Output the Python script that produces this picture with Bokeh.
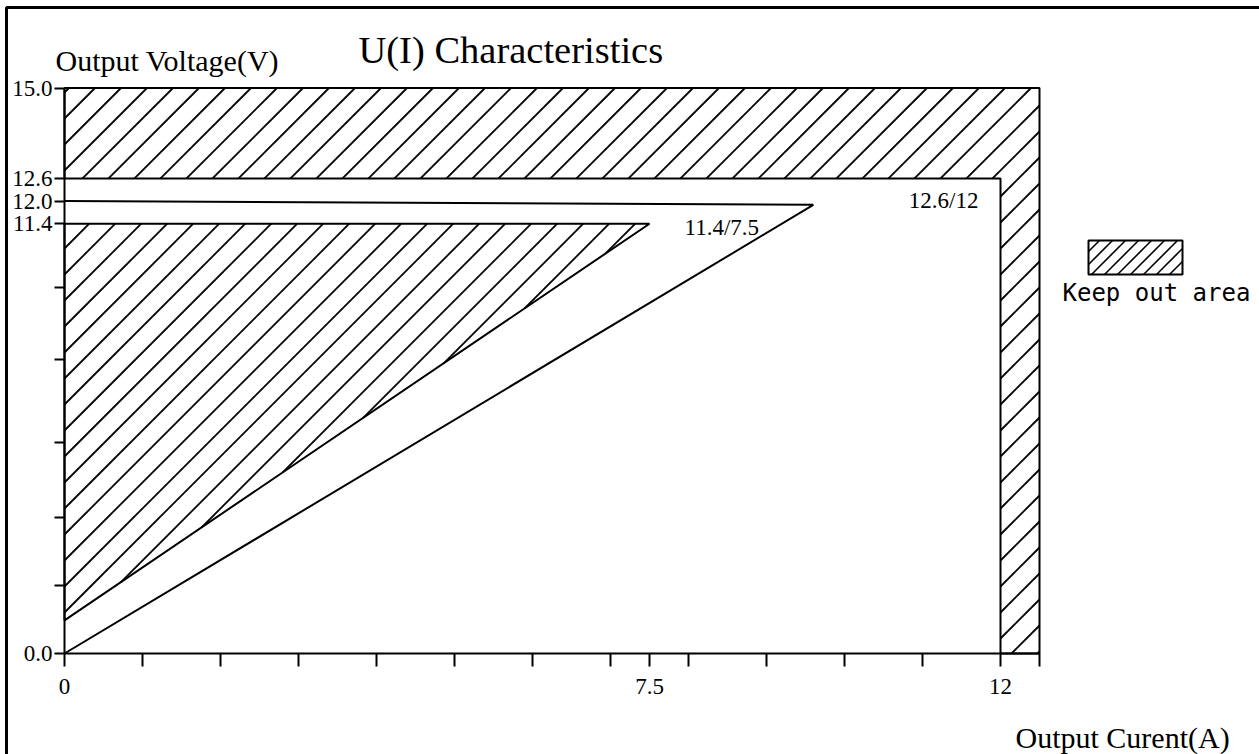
import math
from bokeh.plotting import figure
from bokeh.models import Range1d, FixedTicker, Label, BoxAnnotation, LinearAxis
from bokeh.embed import file_html
from bokeh.resources import INLINE

# ---------------- data ----------------
i_axis_max = 12.5          # A, end of current axis
v_axis_max = 15.0          # V, end of voltage axis
i_limit = 12               # A, current limit
v_limit = 12.6             # V, voltage limit

keepout_i = [0, i_limit, i_limit, i_axis_max, i_axis_max, 0]
keepout_v = [v_limit, v_limit, 0, 0, v_axis_max, v_axis_max]

outer_i = [0, 9.6, 0]      # U(I) boundary at 12.0 V
outer_v = [0, 11.9, 12.0]

inner_i = [0, 7.5, 0]      # hatched keep-out triangle, 11.4 V / 7.5 A
inner_v = [11.4, 11.4, 0.88]

x_ticks = [0, 1, 2, 3, 4, 5, 6, 7, 7.5, 8, 9, 10, 11, 12, 12.5]
x_tick_text = {0: "0", 7.5: "7.5", 12: "12"}
y_ticks = [0, 1.8, 3.6, 5.6, 7.8, 9.7, 11.4, 12.0, 12.6, 15.0]
y_tick_text = {0: "0.0", 11.4: "11.4", 12.0: "12.0", 12.6: "12.6", 15.0: "15.0"}

title_text = "U(I) Characteristics"
x_title = "Output Curent(A)"
y_title = "Output Voltage(V)"
legend_text = "Keep out area"
point_12 = "12.6/12"
point_75 = "11.4/7.5"

SERIF = "Liberation Serif"

# ---------------- layout (pixels) ----------------
W, H = 1259, 754
X0_PX, PX_PER_A = 64, 78.0       # origin and scale of the current axis
Y0_PX, PX_PER_V = 653, 37.7      # origin and scale of the voltage axis
HATCH_STEP = 26                  # px between hatch lines
LEGEND_BOX = (1088, 240, 1182, 274)   # left, top, right, bottom (px)
LEGEND_STEP = 13


def to_px(i, v):
    return X0_PX + i * PX_PER_A, Y0_PX - v * PX_PER_V


def to_data(x, y):
    return (x - X0_PX) / PX_PER_A, (Y0_PX - y) / PX_PER_V


def hatch(px_pts, step):
    """45 degree '/' hatch lines clipped to a polygon given in pixels."""
    xs, ys = [], []
    n = len(px_pts)
    sums = [x + y for x, y in px_pts]
    k = math.floor(min(sums) / step) + 1
    while k * step < max(sums):
        c = k * step
        hits = []
        for j in range(n):
            (x1, y1), (x2, y2) = px_pts[j], px_pts[(j + 1) % n]
            f1, f2 = x1 + y1 - c, x2 + y2 - c
            if (f1 > 0) != (f2 > 0):
                t = f1 / (f1 - f2)
                hits.append(x1 + t * (x2 - x1))
        hits.sort()
        for a, b in zip(hits[0::2], hits[1::2]):
            (ia, va), (ib, vb) = to_data(a, c - a), to_data(b, c - b)
            xs.append([ia, ib])
            ys.append([va, vb])
        k += 1
    return xs, ys


p = figure(width=W, height=H,
           x_range=Range1d(-X0_PX / PX_PER_A, (W - X0_PX) / PX_PER_A),
           y_range=Range1d(-(H - Y0_PX) / PX_PER_V, Y0_PX / PX_PER_V),
           output_backend="svg", toolbar_location=None,
           x_axis_location=None, y_axis_location=None,
           min_border=0)
p.grid.visible = False
p.outline_line_color = None
p.background_fill_color = "white"
p.border_fill_color = "white"
p.title.visible = False

# hatched keep-out areas
for poly_i, poly_v in ((keepout_i, keepout_v), (inner_i, inner_v)):
    hx, hy = hatch([to_px(a, b) for a, b in zip(poly_i, poly_v)], HATCH_STEP)
    p.multi_line(hx, hy, line_color="black", line_width=1.8)
    p.patch(poly_i, poly_v, fill_alpha=0, line_color="black", line_width=2)

# outer boundary
p.line(outer_i, outer_v, line_color="black", line_width=2)

# axes (drawn at the origin)
xa = LinearAxis(fixed_location=0, bounds=(0, i_axis_max),
                ticker=FixedTicker(ticks=x_ticks),
                major_label_overrides={t: x_tick_text.get(t, "") for t in x_ticks})
ya = LinearAxis(fixed_location=0, bounds=(0, v_axis_max),
                ticker=FixedTicker(ticks=y_ticks),
                major_label_overrides={t: y_tick_text.get(t, "") for t in y_ticks})
for ax in (xa, ya):
    ax.axis_line_width = 2
    ax.axis_line_color = "black"
    ax.major_tick_line_width = 2
    ax.major_tick_line_color = "black"
    ax.major_tick_in = 0
    ax.minor_tick_line_color = None
    ax.major_label_text_font = SERIF
    ax.major_label_text_font_size = "23px"
    ax.major_label_text_color = "black"
xa.major_tick_out = 13
xa.major_label_standoff = 12
ya.major_tick_out = 10
ya.major_label_standoff = 2
p.add_layout(xa, "below")
p.add_layout(ya, "left")

# point annotations
p.add_layout(Label(x=i_limit, y=v_limit, text=point_12, text_font=SERIF,
                   text_font_size="23px", text_color="black",
                   text_align="right", text_baseline="top",
                   x_offset=-22, y_offset=-10))
p.add_layout(Label(x=inner_i[1], y=inner_v[1], text=point_75, text_font=SERIF,
                   text_font_size="23px", text_color="black",
                   text_align="left", text_baseline="top",
                   x_offset=35, y_offset=9))

# titles
p.add_layout(Label(x=358, y=28, x_units="canvas", y_units="canvas", text=title_text,
                   text_font=SERIF, text_font_size="38.5px", text_color="black",
                   text_baseline="top"))
p.add_layout(Label(x=55, y=43.5, x_units="canvas", y_units="canvas", text=y_title,
                   text_font=SERIF, text_font_size="30px", text_color="black",
                   text_baseline="top"))
p.add_layout(Label(x=1015, y=720, x_units="canvas", y_units="canvas", text=x_title,
                   text_font=SERIF, text_font_size="30px", text_color="black",
                   text_baseline="top"))

# legend swatch
l, t, r, b = LEGEND_BOX
sw = [to_data(x, y) for x, y in ((l, t), (r, t), (r, b), (l, b))]
hx, hy = hatch([(l, t), (r, t), (r, b), (l, b)], LEGEND_STEP)
p.multi_line(hx, hy, line_color="black", line_width=1.6)
p.patch([q[0] for q in sw], [q[1] for q in sw], fill_alpha=0,
        line_color="black", line_width=2)
p.add_layout(Label(x=1062, y=278, x_units="canvas", y_units="canvas", text=legend_text,
                   text_font="DejaVu Sans Mono", text_font_size="24px",
                   text_color="black", text_baseline="top"))

# outer drawing border
p.add_layout(BoxAnnotation(left=6, right=1500, top=7, bottom=1000,
                           left_units="canvas", right_units="canvas",
                           top_units="canvas", bottom_units="canvas",
                           fill_alpha=0, line_color="black", line_width=3, line_alpha=1))

open("out.html", "w").write(file_html(p, INLINE))
